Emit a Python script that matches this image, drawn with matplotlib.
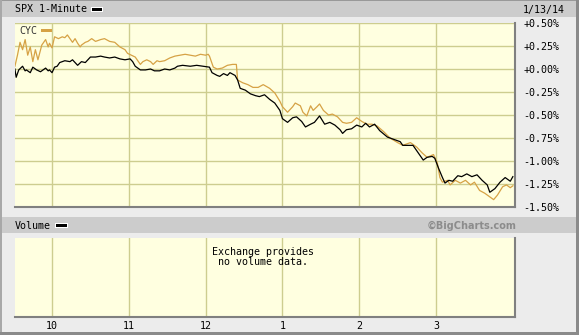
import matplotlib.pyplot as plt
from matplotlib.patches import Rectangle
import numpy as np

# minutes after 9:30 and % change
spx_min = [1, 2, 4, 7, 9, 10, 13, 15, 18, 21, 25, 27, 28, 30, 32, 34, 36, 40, 44, 46,
           50, 53, 56, 60, 64, 68, 71, 75, 79, 83, 87, 91, 93, 95, 99, 103, 107, 110, 114, 118,
           122, 126, 128, 132, 138, 143, 148, 153, 155, 159, 161, 164, 167, 169, 173, 175, 177, 181, 185, 189,
           192, 196, 200, 204, 208, 210, 214, 218, 221, 225, 228, 232, 235, 239, 243, 247, 251, 255, 257, 260,
           264, 268, 272, 275, 278, 282, 286, 292, 296, 302, 304, 307, 312, 316, 320, 323, 327, 329, 332, 335,
           337, 340, 343, 347, 350, 354, 358, 362, 366, 370, 372, 376, 380, 384, 388, 390]
spx_pct = [0.00, -0.09, -0.01, 0.03, -0.02, -0.01, -0.04, 0.02, -0.01, -0.03, 0.01, -0.02, -0.01, -0.04, 0.02, 0.03, 0.07, 0.09, 0.08, 0.10,
           0.04, 0.08, 0.07, 0.13, 0.13, 0.14, 0.13, 0.12, 0.13, 0.11, 0.10, 0.11, 0.08, 0.03, -0.01, -0.01, 0.00, -0.02, -0.02, 0.00,
           -0.01, 0.01, 0.03, 0.04, 0.03, 0.04, 0.03, 0.02, -0.04, -0.07, -0.08, -0.05, -0.07, -0.04, -0.07, -0.12, -0.21, -0.23, -0.27, -0.29,
           -0.30, -0.28, -0.33, -0.37, -0.45, -0.54, -0.58, -0.53, -0.52, -0.57, -0.63, -0.60, -0.58, -0.51, -0.60, -0.58, -0.61, -0.66, -0.70, -0.66,
           -0.65, -0.61, -0.63, -0.59, -0.63, -0.60, -0.67, -0.74, -0.76, -0.79, -0.83, -0.83, -0.83, -0.91, -0.99, -0.96, -0.95, -0.97, -1.08, -1.18,
           -1.24, -1.21, -1.22, -1.16, -1.17, -1.14, -1.17, -1.15, -1.21, -1.26, -1.34, -1.30, -1.23, -1.18, -1.22, -1.17]

cyc_min = [1, 3, 5, 7, 9, 11, 13, 15, 17, 19, 22, 25, 27, 28, 30, 32, 35, 38, 40, 42,
           46, 48, 50, 52, 53, 56, 58, 61, 64, 68, 71, 75, 79, 83, 87, 89, 92, 95, 99, 101,
           104, 107, 109, 112, 114, 118, 122, 126, 130, 134, 138, 142, 146, 150, 152, 153, 156, 159, 163, 167,
           171, 174, 175, 179, 183, 187, 191, 195, 200, 204, 208, 210, 214, 218, 220, 224, 226, 229, 232, 234,
           237, 239, 242, 246, 249, 253, 257, 260, 264, 268, 272, 276, 280, 284, 289, 294, 300, 304, 310, 315,
           319, 323, 328, 331, 333, 335, 339, 341, 345, 349, 353, 357, 360, 364, 368, 372, 375, 378, 382, 385,
           388, 390]
cyc_pct = [0.03, 0.15, 0.29, 0.21, 0.32, 0.15, 0.24, 0.08, 0.21, 0.10, 0.26, 0.32, 0.24, 0.28, 0.23, 0.35, 0.33, 0.35, 0.34, 0.37,
           0.29, 0.33, 0.28, 0.24, 0.26, 0.29, 0.30, 0.33, 0.30, 0.32, 0.33, 0.30, 0.29, 0.24, 0.21, 0.17, 0.15, 0.13, 0.05, 0.08,
           0.10, 0.08, 0.05, 0.09, 0.08, 0.09, 0.12, 0.14, 0.15, 0.16, 0.15, 0.14, 0.16, 0.15, 0.16, 0.14, 0.02, 0.00, 0.01, 0.04,
           0.05, 0.05, -0.12, -0.15, -0.17, -0.20, -0.20, -0.17, -0.21, -0.26, -0.35, -0.41, -0.47, -0.41, -0.37, -0.40, -0.47, -0.51, -0.40, -0.45,
           -0.41, -0.38, -0.45, -0.50, -0.49, -0.52, -0.58, -0.59, -0.58, -0.53, -0.57, -0.60, -0.60, -0.62, -0.68, -0.75, -0.80, -0.83, -0.80, -0.85,
           -0.91, -0.96, -0.93, -1.02, -1.18, -1.23, -1.21, -1.26, -1.21, -1.24, -1.21, -1.26, -1.23, -1.32, -1.35, -1.39, -1.42, -1.37, -1.28, -1.26,
           -1.29, -1.27]

hour_ticks = [10, 11, 12, 13, 14, 15]
hour_labels = ['10', '11', '12', '1', '2', '3']
pct_ticks = [0.5, 0.25, 0.0, -0.25, -0.5, -0.75, -1.0, -1.25, -1.5]
pct_labels = ['+0.50%', '+0.25%', '+0.00%', '-0.25%', '-0.50%', '-0.75%', '-1.00%', '-1.25%', '-1.50%']

plt.rcParams['font.family'] = ['DejaVu Sans Mono']

W, H = 579, 335
fig = plt.figure(figsize=(W / 100, H / 100), dpi=100, facecolor='#ececec')


def box(x0, y0, x1, y1):
    return [x0 / W, 1 - y1 / H, (x1 - x0) / W, (y1 - y0) / H]


def rect(x0, y0, x1, y1, color):
    fig.patches.append(Rectangle((x0 / W, 1 - y1 / H), (x1 - x0) / W, (y1 - y0) / H,
                                 transform=fig.transFigure, facecolor=color, edgecolor='none'))


# bands and frame
rect(0, 0, W, 1, '#999999')
rect(1, 1, W - 2, 17, '#cccccc')
rect(1, 217, W - 2, 233, '#cccccc')
rect(0, 0, 2, H, '#a8a8a8')
rect(W - 3, 0, W, H, '#8a8a8a')
rect(0, H - 3, W, H, '#8a8a8a')

bg = '#ffffe0'
grid_c = '#cdcd8f'
orange = '#d6a245'
xlim = (9.518, 16.028)

ax = fig.add_axes(box(15, 23, 515, 207))
ax.set_facecolor(bg)
ax.set_axisbelow(True)
ax.plot(9.5 + np.array(cyc_min) / 60, cyc_pct, color=orange, lw=0.9)
ax.plot(9.5 + np.array(spx_min) / 60, spx_pct, color='black', lw=0.9)
ax.set_xlim(*xlim)
ax.set_ylim(-1.5, 0.5)
ax.set_xticks(hour_ticks)
ax.set_yticks(pct_ticks, pct_labels)
ax.yaxis.tick_right()
ax.tick_params(axis='x', length=0, labelbottom=False)
ax.tick_params(axis='y', length=0, pad=6, labelsize=7.2)
ax.grid(True, color=grid_c, lw=1.0)
for s in ['top', 'left']:
    ax.spines[s].set_visible(False)
for s in ['bottom', 'right']:
    ax.spines[s].set_color('#808080')
    ax.spines[s].set_linewidth(1.5)

ax2 = fig.add_axes(box(15, 238, 515, 317))
ax2.set_facecolor(bg)
ax2.set_xlim(*xlim)
ax2.set_ylim(0, 1)
ax2.set_xticks(hour_ticks, hour_labels)
ax2.set_yticks([])
ax2.tick_params(axis='x', length=0, pad=3, labelsize=7.2)
ax2.grid(True, axis='x', color=grid_c, lw=1.0)
for s in ['top', 'left']:
    ax2.spines[s].set_visible(False)
for s in ['bottom', 'right']:
    ax2.spines[s].set_color('#808080')
    ax2.spines[s].set_linewidth(1.5)

# header texts and legend swatches
fig.text(15 / W, 1 - 9.5 / H, 'SPX 1-Minute', fontsize=7.2, va='center')
rect(91, 7, 103, 12, 'white')
rect(92, 8, 102, 11, 'black')
fig.text(565 / W, 1 - 9.5 / H, '1/13/14', fontsize=7.2, va='center', ha='right')

fig.text(19 / W, 1 - 31 / H, 'CYC', fontsize=7.2, va='center', color='#333333')
rect(41, 29, 52, 32, orange)

fig.text(15 / W, 1 - 226 / H, 'Volume', fontsize=7.2, va='center')
rect(55, 223, 68, 228, 'white')
rect(56, 224, 67, 227, 'black')
fig.text(516 / W, 1 - 226 / H, '\u00a9BigCharts.com', fontsize=7, va='center', ha='right',
         family='DejaVu Sans', fontweight='bold', color='#8c8c8c')

fig.text(263 / W, 1 - 257 / H, 'Exchange provides\n no volume data.', fontsize=7.2,
         ha='center', va='center', multialignment='left', linespacing=1.0)

fig.savefig('out.png', dpi=100, facecolor=fig.get_facecolor())
